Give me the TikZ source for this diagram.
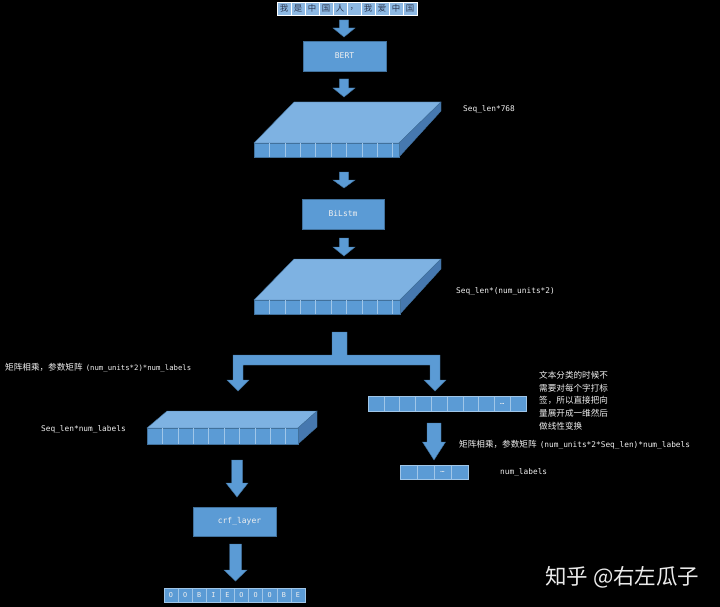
\documentclass[tikz,border=0pt]{standalone}
\usepackage{fontspec}
\setmainfont{DejaVu Sans}
\newfontfamily\cjk{Noto Sans CJK SC}
\newfontfamily\mono{DejaVu Sans Mono}
\definecolor{bblue}{RGB}{91,155,213}
\definecolor{bdark}{RGB}{65,113,156}
\definecolor{btop}{RGB}{126,178,226}
\definecolor{bside}{RGB}{70,120,175}
\definecolor{bline}{RGB}{160,198,232}
\definecolor{blight}{RGB}{141,185,228}
\definecolor{txtdark}{RGB}{45,55,80}
\definecolor{txtw}{RGB}{240,240,240}
\tikzset{
  arrowfill/.style={fill=bblue, draw=bdark, line width=0.4pt},
  boxstyle/.style={fill=bblue, draw=bdark, line width=0.5pt, text=txtw, inner sep=0pt, font=\mono\fontsize{8}{9}\selectfont},
  lbl/.style={anchor=west, inner sep=0pt, text=txtw, font=\mono\fontsize{7.8}{9}\selectfont},
  cjklbl/.style={anchor=west, inner sep=0pt, text=txtw, font=\cjk\fontsize{8.6}{12.7}\selectfont},
  incell/.style={fill=blight, draw=white, line width=0.5pt, inner sep=0pt, text=txtdark, font=\cjk\fontsize{8.4}{9}\selectfont},
  outcell/.style={fill=bblue, draw=bline, line width=0.5pt, inner sep=0pt, text=txtw, font=\mono\fontsize{6.8}{8}\selectfont},
  vcell/.style={fill=bblue, draw=bline, line width=0.6pt, inner sep=0pt, text=txtw, font=\mono\fontsize{7}{8}\selectfont},
}
\newcommand{\blkarrow}[6]{%
  \filldraw[arrowfill] ({#1-#5},#2) -- ({#1+#5},#2) -- ({#1+#5},#3) -- ({#1+#6},#3) -- (#1,#4) -- ({#1-#6},#3) -- ({#1-#5},#3) -- cycle;}
\newcommand{\slab}[9]{%
  \filldraw[fill=btop, draw=bdark, line width=0.4pt] (#1,#3) -- (#5,#7) -- (#6,#7) -- (#2,#3) -- cycle;
  \filldraw[fill=bside, draw=bdark, line width=0.4pt] (#2,#3) -- (#6,#7) -- (#6,#8) -- (#2,#4) -- cycle;
  \filldraw[fill=bblue, draw=bdark, line width=0.4pt] (#1,#3) rectangle (#2,#4);
  \foreach \k in {1,...,9} \draw[bline, line width=0.5pt] ({#1+\k*#9},#3) -- ({#1+\k*#9},#4);}
\begin{document}
\begin{tikzpicture}[x=1pt,y=-1pt]
\fill[black] (0,0) rectangle (720,607);
\useasboundingbox (0,0) rectangle (720,607);

% input row
\foreach \c [count=\i from 0] in {我,是,中,国,人,，,我,爱,中,国}
  \node[incell, minimum width=14pt, minimum height=13pt] (in\i) at ({284+14*\i},8.5) {\c};

% arrow 1
\blkarrow{344}{20}{28}{37}{4.6}{11}
% BERT
\node[boxstyle, minimum width=83pt, minimum height=30pt] (bert) at (344.5,56) {BERT};
% arrow 2
\blkarrow{344}{79}{88}{97}{4.6}{11}
% slab 1
\slab{254}{399}{143}{157}{294}{441}{102}{111}{15.4}
\node[lbl] (l768) at (463,109) {Seq\_len*768};
% arrow 3
\blkarrow{344}{172}{180}{188}{4.6}{11}
% BiLstm
\node[boxstyle, minimum width=82pt, minimum height=30pt] (bilstm) at (343,214) {BiLstm};
% arrow 4
\blkarrow{344}{238}{247}{256}{4.6}{11}
% slab 2
\slab{254}{400}{300}{314}{294}{441}{259}{269}{15.4}
\node[lbl] (lunits) at (456,291) {Seq\_len*(num\_units*2)};

% split arrow
\filldraw[arrowfill] (332,332) -- (347,332) -- (347,355) -- (440,355) -- (440,380) -- (446,380) -- (435,391)
  -- (424,380) -- (430,380) -- (430,365) -- (243,365) -- (243,380) -- (249,380) -- (238,391)
  -- (227,380) -- (233,380) -- (233,355) -- (332,355) -- cycle;
\node[anchor=west, inner sep=0pt, text=txtw] (lmat1) at (5,368)
  {{\cjk\fontsize{8.6}{10}\selectfont 矩阵相乘，参数矩阵} {\mono\fontsize{7.3}{9}\selectfont (num\_units*2)*num\_labels}};

% left branch
\slab{147}{298}{428}{444}{167}{317}{411}{427}{15.4}
\node[lbl] (lseq) at (41,429) {Seq\_len*num\_labels};
\blkarrow{237}{460}{483}{497}{5.5}{11}
\node[boxstyle, minimum width=83pt, minimum height=29pt] (crf) at (234.5,521.5) {\hspace*{10pt}crf\_layer};
\blkarrow{235.5}{544}{570}{581}{6}{11.5}
\foreach \c [count=\i from 0] in {O,O,B,I,E,O,O,O,B,E}
  \node[outcell, minimum width=14.1pt, minimum height=14pt] (out\i) at ({171+14.1*\i},595) {\c};

% right branch
\foreach \c [count=\i from 0] in {,,,,,,,,…,}
  \node[vcell, minimum width=15.8pt, minimum height=15pt] (v\i) at ({375.9+15.8*\i},403.5) {\c};
\node[cjklbl, anchor=north west, align=left] (note) at (539,371)
  {文本分类的时候不\\需要对每个字打标\\签，所以直接把向\\量展开成一维然后\\做线性变换};
\blkarrow{434}{423}{442}{460}{7}{11.5}
\node[anchor=west, inner sep=0pt, text=txtw] (lmat2) at (459,445)
  {{\cjk\fontsize{8.6}{10}\selectfont 矩阵相乘，参数矩阵} {\mono\fontsize{7.8}{9}\selectfont (num\_units*2*Seq\_len)*num\_labels}};
\foreach \c [count=\i from 0] in {,,…,}
  \node[vcell, minimum width=17pt, minimum height=14pt] (s\i) at ({408.5+17*\i},472) {\c};
\node[lbl] (lnum) at (500,472) {num\_labels};

% watermark
\node[anchor=west, inner sep=0pt, text=white!92!black, font=\cjk\fontsize{21.5}{24}\selectfont] (wm) at (545,577) {知乎 @右左瓜子};
\end{tikzpicture}
\end{document}
